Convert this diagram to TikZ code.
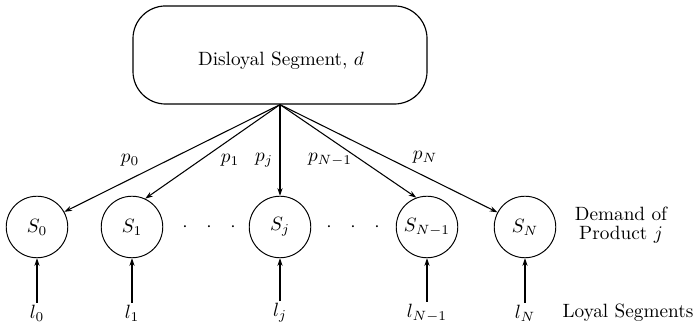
\documentclass[tikz,border=0pt]{standalone}
\usetikzlibrary{arrows.meta}
\begin{document}
\begin{tikzpicture}[x=0.52pt,y=-0.52pt,
  box/.style={draw,line width=0.6pt,rounded corners=17pt,minimum width=152.9pt,minimum height=51pt,inner sep=0pt},
  seg/.style={draw,circle,line width=0.5pt,minimum size=32pt,inner sep=0pt},
  arr/.style={line width=0.55pt,-{Stealth[length=4pt,width=2.7pt]}},
  lab/.style={inner sep=1pt}]
\useasboundingbox (0,0) rectangle (693,328);
\node[box] (d) at (280,55) {};
\node[lab] (dtext) at (281,61) {Disloyal Segment, $d$};
\node[seg] (s0) at (37,227) {$S_0$};
\node[seg] (s1) at (132,227) {$S_1$};
\node[seg] (sj) at (280,227) {$S_j$};
\node[seg] (sn1) at (427,227) {$S_{N-1}$};
\node[seg] (sn) at (525,227) {$S_N$};
\foreach \x/\n in {185/a,209/b,233/c,329/e,353/f,377/g}{\node[inner sep=0pt] (dot\n) at (\x,227) {$\cdot$};}
\coordinate (apex) at (d.south);
\draw[arr] (apex) -- (s0.29);
\draw[arr] (apex) -- (s1.65);
\draw[arr] (apex) -- (sj.north);
\draw[arr] (apex) -- (sn1.110);
\draw[arr] (apex) -- (sn.152);
\node[lab] (p0) at (130,160) {$p_0$};
\node[lab] (p1) at (230,160) {$p_1$};
\node[lab] (pj) at (264,160) {$p_j$};
\node[lab] (pn1) at (330,160) {$p_{N-1}$};
\node[lab] (pn) at (425,157) {$p_N$};
\foreach \x/\n/\t in {37/s0/l_0,132/s1/l_1,280/sj/l_j,427/sn1/l_{N-1},525/sn/l_N}{
  \node[lab] (l\n) at (\x,313) {$\t$};
  \draw[arr] (l\n.north) -- (\n.south);
}
\node[lab,align=center] (dem) at (621,225) {Demand of\\[-2pt]Product $j$};
\node[lab] (loyal) at (628,313) {Loyal Segments};
\end{tikzpicture}
\end{document}
